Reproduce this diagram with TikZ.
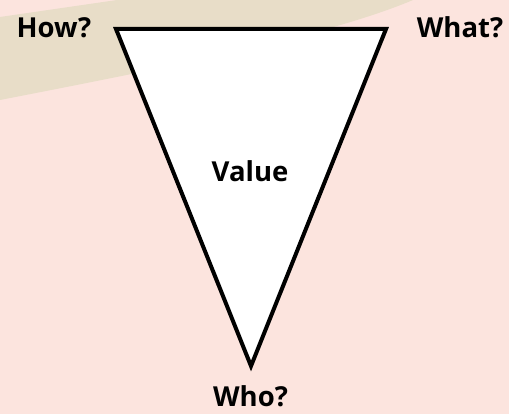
\documentclass[tikz,border=0pt]{standalone}
\usepackage{fontspec}
\setmainfont{Open Sans}
\usepackage{xcolor}
\definecolor{cfond}{RGB}{252,228,222}
\definecolor{cbeige}{RGB}{232,221,200}

\begin{document}
\begin{tikzpicture}[x=1pt, y=-1pt, lab/.style={anchor=base, inner sep=0pt, font=\fontsize{27.5}{33}\selectfont\bfseries}]
\useasboundingbox (0,0) rectangle (509,414);
\fill[cfond] (0,0) rectangle (509,414);
\fill[cbeige] (0,17) -- (117,0) -- (413,0) .. controls (330,35) and (180,65) .. (0,100) -- cycle;
\coordinate (A) at (116,29); \coordinate (B) at (386,29);
\coordinate (C) at (251,366);
\draw[line width=4pt, line join=miter, fill=white] (A) -- (B) -- (C) -- cycle;
\foreach \n/\lab/\x/\y in {how/How?/54/38, what/What?/460/38, value/Value/250/182, who/Who?/250.5/406}
  {\node[lab] (\n) at (\x,\y) {\lab};}
\end{tikzpicture}
\end{document}
